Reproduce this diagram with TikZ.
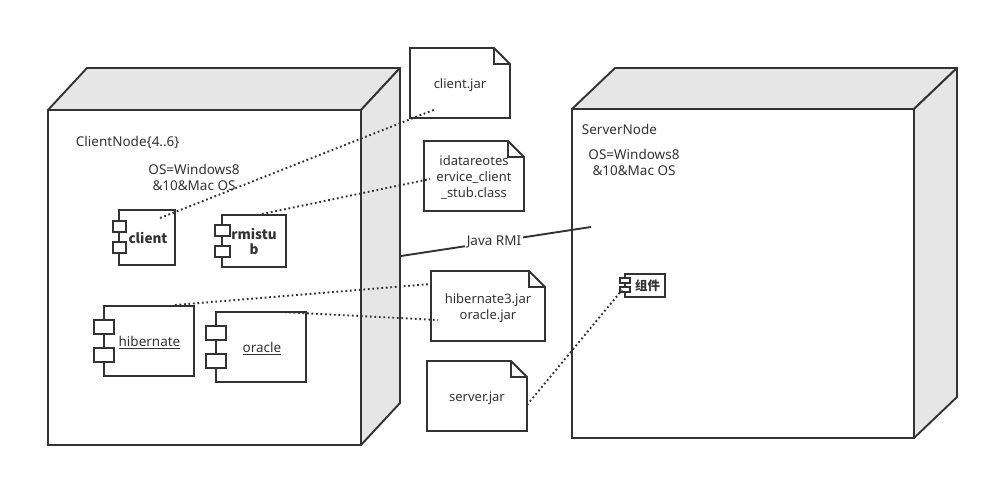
\documentclass[tikz,border=0pt]{standalone}
\usepackage{fontspec}
\setmainfont{Noto Sans}
\newfontfamily\cjk{Noto Sans CJK SC}
\usetikzlibrary{calc}
\definecolor{umlline}{HTML}{333333}
\definecolor{umlface}{HTML}{E6E6E6}
\begin{document}
\begin{tikzpicture}[x=1pt,y=-1pt,line width=1.9pt,draw=umlline,
	front node/.style={draw=umlline,fill=white,anchor=north west,inner sep=0pt,outer sep=0pt},
	comp node/.style={draw=umlline,fill=white,anchor=north west,inner sep=0pt,outer sep=0pt,align=center,text=umlline,font=\fontsize{13.5}{15}\selectfont},
	port node/.style={draw=umlline,fill=white,anchor=north west,inner sep=0pt,outer sep=0pt},
	file node/.style={anchor=north west,inner sep=0pt,outer sep=0pt,align=center,text=umlline,font=\fontsize{13}{16}\selectfont},
	label node/.style={inner sep=0pt,text=umlline,align=center,font=\fontsize{13.5}{16}\selectfont},
	dot line/.style={line width=1.9pt,dash pattern=on 1.8pt off 2.7pt}]
	
	\useasboundingbox (0,0) rectangle (989,477);
	
	\node[front node,minimum width=313pt,minimum height=335pt] at (48,110) (clientnode) {};
	\node[front node,minimum width=342pt,minimum height=329pt] at (572,109) (servernode) {};
	
	\draw[umlline,fill=umlface,line join=round] (clientnode.north west) -- ++(39,-42) -- ++(313,0) -- ++(-39,42) -- cycle;
	\draw[umlline,fill=umlface,line join=round] (clientnode.north east) -- ++(39,-42) -- ++(0,335) -- ++(-39,42) -- cycle;
	\draw[umlline,fill=umlface,line join=round] (servernode.north west) -- ++(43,-41) -- ++(342,0) -- ++(-43,41) -- cycle;
	\draw[umlline,fill=umlface,line join=round] (servernode.north east) -- ++(43,-41) -- ++(0,329) -- ++(-43,41) -- cycle;
	
	\node[label node,anchor=west] at (75,142) (clientname) {ClientNode\{4..6\}};
	\node[label node] at (194,177) (clientos) {OS=Windows8\\\&10\&Mac OS};
	\node[label node,anchor=west] at (581,129) (servername) {ServerNode};
	\node[label node] at (634,162) (serveros) {OS=Windows8\\\&10\&Mac OS};
	
	\node[comp node,minimum width=56pt,minimum height=55pt,font=\fontsize{13.5}{15}\cjk\bfseries] at (119,210) (client) {\hspace{2pt}client};
	\node[port node,minimum width=13pt,minimum height=11pt] at (113,221) (clientp1) {};
	\node[port node,minimum width=13pt,minimum height=11pt] at (113,242) (clientp2) {};
	
	\node[comp node,minimum width=64pt,minimum height=52pt,font=\fontsize{13.5}{15}\cjk\bfseries] at (222,215) (rmistub) {rmistu\\b};
	\node[port node,minimum width=15pt,minimum height=11pt] at (215,225) (rmistubp1) {};
	\node[port node,minimum width=15pt,minimum height=11pt] at (215,246) (rmistubp2) {};
	
	\node[comp node,minimum width=90pt,minimum height=70pt] at (104,306) (hibernate) {\rule{0pt}{13pt}\hspace{1pt}\underline{hibernate}};
	\node[port node,minimum width=20pt,minimum height=14pt] at (94,320) (hibernatep1) {};
	\node[port node,minimum width=20pt,minimum height=14pt] at (94,348) (hibernatep2) {};
	
	\node[comp node,minimum width=90pt,minimum height=70pt] at (216,312) (oracle) {\rule{0pt}{13pt}\hspace{2pt}\underline{oracle}};
	\node[port node,minimum width=20pt,minimum height=14pt] at (206,326) (oraclep1) {};
	\node[port node,minimum width=20pt,minimum height=14pt] at (206,354) (oraclep2) {};
	
	\node[comp node,minimum width=40pt,minimum height=23pt,font=\fontsize{12.5}{14}\cjk\bfseries] at (625,274) (zujian) {\hspace{5pt}组件};
	\node[port node,minimum width=10pt,minimum height=5pt] at (620,278) (zujianp1) {};
	\node[port node,minimum width=10pt,minimum height=5pt] at (620,287) (zujianp2) {};
	
	\node[file node,minimum width=100pt,minimum height=70pt] at (410,48) (clientjar) {\rule{0pt}{15pt}client.jar};
	\node[file node,minimum width=100pt,minimum height=70pt] at (424,141) (stubclass) {\rule{0pt}{12pt}idatareotes\\ervice\_client\\\_stub.class};
	\node[file node,minimum width=114pt,minimum height=70pt] at (431,271) (hibernatejar) {\rule{0pt}{14pt}hibernate3.jar\\oracle.jar};
	\node[file node,minimum width=100pt,minimum height=70pt] at (427,361) (serverjar) {\rule{0pt}{15pt}server.jar};
	
	\foreach \n in {clientjar,stubclass,hibernatejar,serverjar}
	{
		\draw[umlline,line join=miter] (\n.south west) -- (\n.north west) -- ($(\n.north east)+(-16,0)$) -- ($(\n.north east)+(0,16)$) -- (\n.south east) -- cycle;
		\draw[umlline,line join=miter] ($(\n.north east)+(-16,0)$) -- ++(0,16) -- ++(16,0);
	}
	
	\coordinate (clientend) at (160,218);
	\coordinate (clientjarend) at (436,109);
	\coordinate (rmistubend) at (262,214);
	\coordinate (stubclassend) at (430,179);
	\coordinate (hibernateend) at (175,305);
	\coordinate (hibernatejarend) at (431,284);
	\coordinate (oracleend) at (280,312);
	\coordinate (oraclejarend) at (438,320);
	\coordinate (serverjarend) at (527,405);
	\coordinate (zujianend) at (622,290);
	\coordinate (rmileft) at (401,256);
	\coordinate (rmiright) at (591,227);
	
	\path[umlline,dot line]
	(clientend) edge (clientjarend)
	(rmistubend) edge (stubclassend)
	(hibernateend) edge (hibernatejarend)
	(oracleend) edge (oraclejarend)
	(serverjarend) edge (zujianend);
	
	\draw[umlline] (rmileft) -- (rmiright);
	\node[label node,fill=white,inner xsep=2pt,inner ysep=1pt] at (494,242) (rmilabel) {Java RMI};
\end{tikzpicture}
\end{document}
